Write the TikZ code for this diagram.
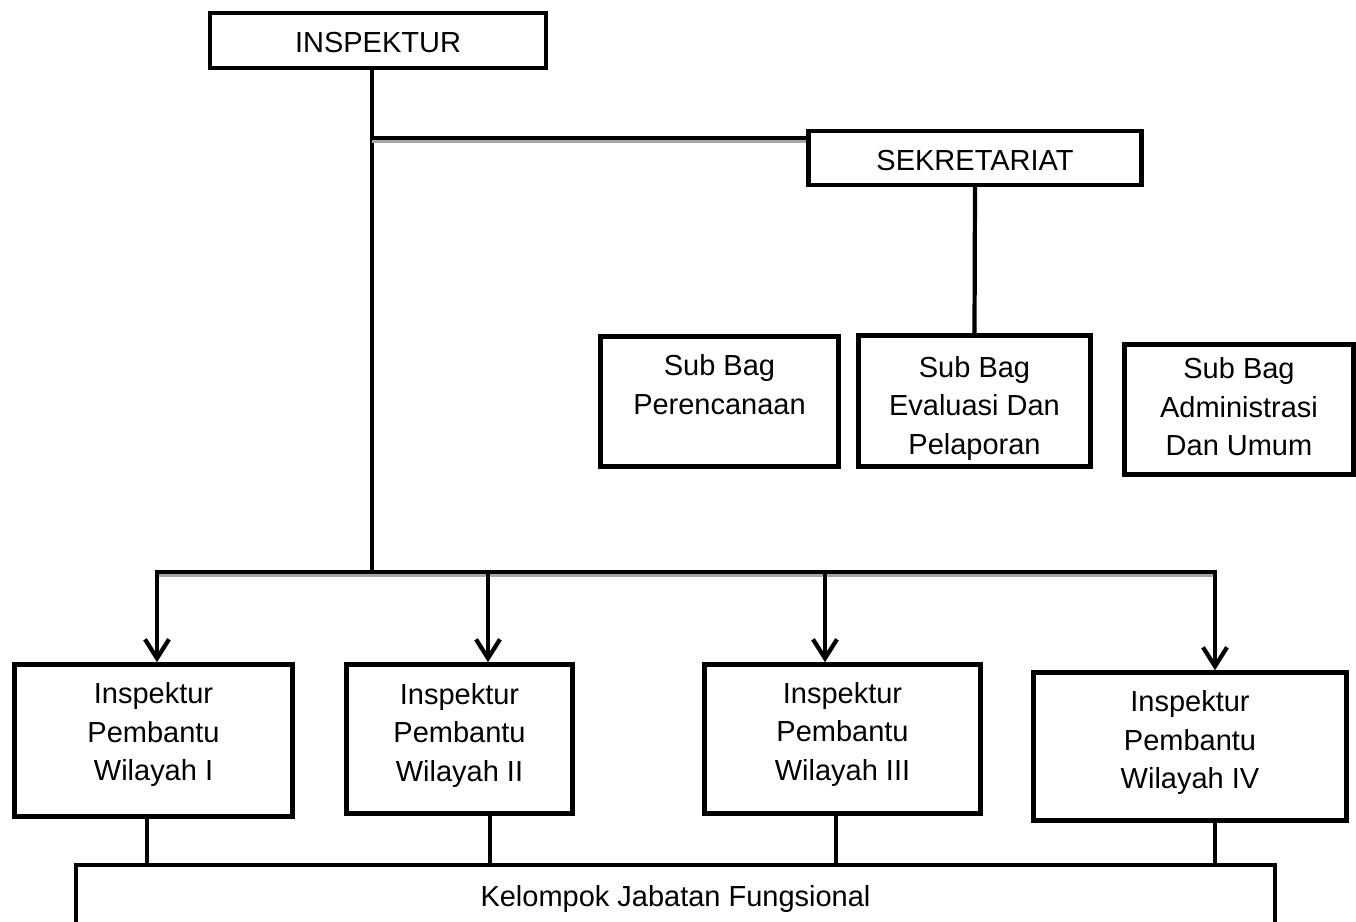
\documentclass[tikz,border=0pt]{standalone}
\usepackage{fontspec}
\setmainfont{Liberation Sans}
\usetikzlibrary{arrows.meta}
% text block, raised by #1 inside its box
\newcommand\stack[2]{\raisebox{#1}[\height][\depth]{\begin{tabular}{@{}c@{}}#2\end{tabular}}}
\begin{document}
\begin{tikzpicture}[x=0.02cm,y=-0.02cm,
  box/.style={draw,line width=2.6pt,inner sep=0pt,font=\fontsize{16.5}{22}\selectfont},
  link/.style={line width=2.4pt,line cap=rect},
  thinlink/.style={line width=1.8pt},
  shade/.style={preaction={draw=black!35,line width=2.4pt,transform canvas={yshift=-1.6pt}}},
  down/.style={link,-{Straight Barb[length=0.38cm,width=0.48cm]}}]
\useasboundingbox (0,0) rectangle (1356,922);
\node[box,minimum width=6.72cm,minimum height=1.1cm] (insp) at (378,40.5) {\stack{-2.5pt}{INSPEKTUR}};
\node[box,minimum width=6.66cm,minimum height=1.08cm] (sekr) at (975,158) {\stack{-2.5pt}{SEKRETARIAT}};
\node[box,minimum width=4.76cm,minimum height=2.6cm] (perenc) at (719.5,401.5) {\stack{8pt}{Sub Bag\\Perencanaan}};
\node[box,minimum width=4.64cm,minimum height=2.62cm] (eval) at (974.5,401) {\stack{-4pt}{Sub Bag\\Evaluasi Dan\\Pelaporan}};
\node[box,minimum width=4.58cm,minimum height=2.6cm] (admin) at (1239,409.5) {\stack{0pt}{Sub Bag\\Administrasi\\Dan Umum}};
\node[box,minimum width=5.56cm,minimum height=3.04cm] (wil1) at (153.5,740.5) {\stack{3.4pt}{Inspektur\\Pembantu\\Wilayah I}};
\node[box,minimum width=4.52cm,minimum height=2.98cm] (wil2) at (459.5,739) {\stack{2.3pt}{Inspektur\\Pembantu\\Wilayah II}};
\node[box,minimum width=5.52cm,minimum height=2.98cm] (wil3) at (842.5,739) {\stack{2.8pt}{Inspektur\\Pembantu\\Wilayah III}};
\node[box,minimum width=6.26cm,minimum height=2.96cm] (wil4) at (1190,746.5) {\stack{2.3pt}{Inspektur\\Pembantu\\Wilayah IV}};
\node[box,minimum width=23.98cm,minimum height=1.24cm] (kjf) at (675.5,896) {\stack{-1.5pt}{Kelompok Jabatan Fungsional}};
% junctions
\coordinate (tee) at (372,138);
\coordinate (hub) at (372,572);
\coordinate (a1) at (157,572);
\coordinate (a2) at (488,572);
\coordinate (a3) at (825,572);
\coordinate (a4) at (1215,572);
% top part
\draw[link] (insp.south -| hub) -- (hub);
\draw[link,shade] (tee) -- (tee -| sekr.west);
\draw[link] (sekr.south) -- (eval.north);
% bus and arrows
\draw[link,shade] (a1) -- (a4);
\draw[down] (a1) -- (a1 |- wil1.north);
\draw[down] (a2) -- (a2 |- wil2.north);
\draw[down] (a3) -- (a3 |- wil3.north);
\draw[down] (a4) -- (a4 |- wil4.north);
% to kelompok
\draw[thinlink] (wil1.south -| 147,0) -- (kjf.north -| 147,0);
\draw[thinlink] (wil2.south -| 490,0) -- (kjf.north -| 490,0);
\draw[thinlink] (wil3.south -| 836,0) -- (kjf.north -| 836,0);
\draw[thinlink] (wil4.south -| 1215,0) -- (kjf.north -| 1215,0);
\end{tikzpicture}
\end{document}
